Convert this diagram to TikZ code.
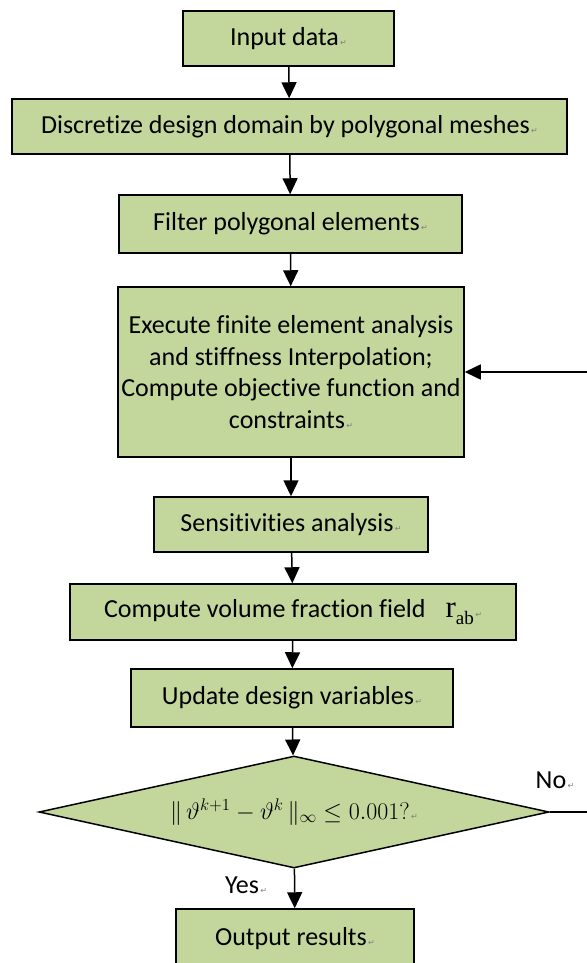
\RequirePackage{fix-cm}
\documentclass[tikz,border=0pt]{standalone}
\usepackage{fontspec}
\setmainfont[Ligatures=NoCommon]{Carlito}
\newfontfamily\markfont{DejaVu Sans}
\newfontfamily\timesfont{Liberation Serif}
\usetikzlibrary{shapes.geometric,arrows.meta}

\definecolor{boxgreen}{HTML}{C3D69B}
\newcommand{\pmark}{{\markfont\fontsize{8}{8}\selectfont\color{gray}\,↵}}
\newcommand{\rab}{{\timesfont\fontsize{31}{31}\selectfont r}\raisebox{-7pt}{\timesfont\fontsize{19}{19}\selectfont ab}}

\tikzset{
  procbox/.style={draw, line width=1.5pt, fill=boxgreen, inner sep=0pt,
    align=center, font=\fontsize{26}{31.7}\selectfont},
  checkbox/.style={procbox, shape=diamond, aspect=4.55},
  flowarrow/.style={line width=1.5pt, -{Triangle[width=15pt,length=16pt]}},
  lbl/.style={font=\fontsize{26}{30}\selectfont, inner sep=0pt}
}

\begin{document}
\begin{tikzpicture}[x=1pt, y=-1pt]
    \useasboundingbox (0,0) rectangle (586,963);

    % steps of the loop
    \node[procbox, minimum width=211pt, minimum height=55pt] (input) at (288.5,38.5) {Input data\pmark};
    \node[procbox, minimum width=555pt, minimum height=55pt] (discr) at (289.5,126.5) {Discretize design domain by polygonal meshes\pmark};
    \node[procbox, minimum width=343pt, minimum height=58pt] (filter) at (290.5,224) {Filter polygonal elements\pmark};
    \node[procbox, minimum width=346pt, minimum height=170pt] (exec) at (291,372)
        {Execute finite element analysis\\ and stiffness Interpolation;\\ Compute objective function and\\ constraints\pmark};
    \node[procbox, minimum width=274pt, minimum height=55pt] (sens) at (291,524.5) {Sensitivities analysis\pmark};
    \node[procbox, minimum width=446pt, minimum height=56pt] (volume) at (293,612) {Compute volume fraction field\hspace{20pt}\rab\pmark};
    \node[procbox, minimum width=322pt, minimum height=58pt] (update) at (292,698) {Update design variables\pmark};
    \node[checkbox, minimum width=510pt, minimum height=112pt] (check) at (294,812)
        {\fontsize{24}{28}\selectfont$\|\,\vartheta^{k+1} - \vartheta^{k}\,\|_{\infty} \le 0.001?$\pmark};
    \node[procbox, minimum width=238pt, minimum height=60pt] (output) at (295,939) {Output results\pmark};

    % labels of the branches
    \node[lbl] (yes) at (246,885) {Yes\pmark};
    \node[lbl] (no) at (555,780) {No\pmark};

    \foreach \a/\b in {input/discr, discr/filter, filter/exec, exec/sens,
                       sens/volume, volume/update, update/check, check/output}
        \draw[flowarrow] (\a) -- (\b);

    % back to the analysis step
    \draw[flowarrow] (check.east) -- ++(50,0) |- (exec.east);
\end{tikzpicture}
\end{document}
